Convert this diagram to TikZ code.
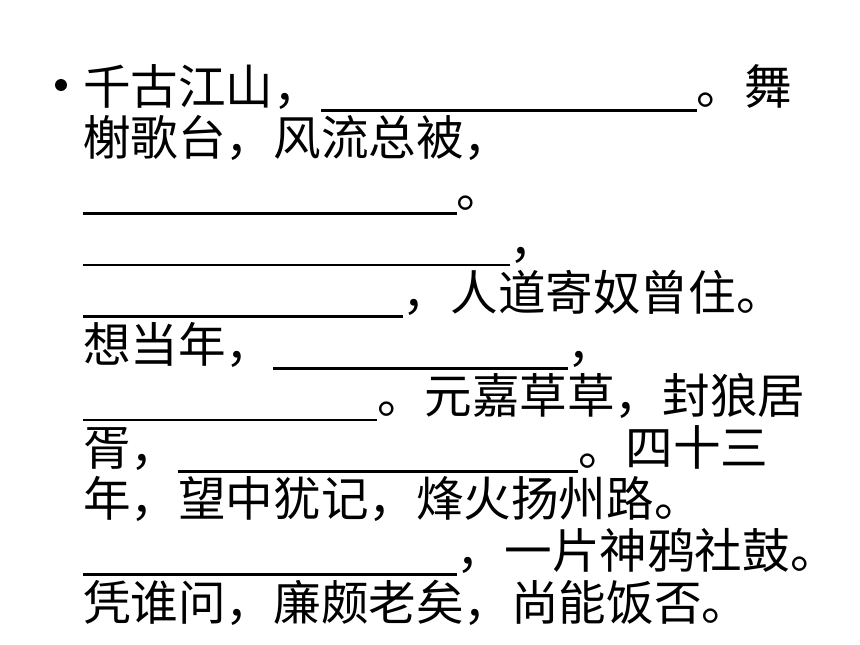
\documentclass[tikz,border=0pt]{standalone}
\usepackage{fontspec}
\newfontfamily\cjk{Noto Sans CJK SC}
\newcommand{\blankline}[1]{\rule[-7.6pt]{#1pt}{2.7pt}}
\tikzset{
  verse/.style={anchor=base west, inner sep=0pt, outer sep=0pt, font=\cjk\fontsize{47.6pt}{51.6pt}\selectfont, text=black}
}
\begin{document}
\begin{tikzpicture}
\useasboundingbox[fill=white] (0pt,0pt) rectangle (860pt,-645pt);
\coordinate (bullet) at (61pt,-85pt);
\fill[black] (bullet) circle[radius=6pt];
\begin{scope}[x=1pt,y=-1pt]
\node[verse] (l1) at (83,104) {千古江山，\blankline{376}。舞};
\node[verse] (l2) at (83,155.6) {榭歌台，风流总被，};
\node[verse] (l3) at (83,207.2) {\blankline{374}。};
\node[verse] (l4) at (83,258.8) {\blankline{427}，};
\node[verse] (l5) at (83,310.4) {\blankline{320}，人道寄奴曾住。};
\node[verse] (l6) at (83,362) {想当年，\blankline{294.6}，};
\node[verse] (l7) at (83,413.6) {\blankline{294}。元嘉草草，封狼居};
\node[verse] (l8) at (83,465.2) {胥，\blankline{400}。四十三};
\node[verse] (l9) at (83,516.8) {年，望中犹记，烽火扬州路。};
\node[verse] (l10) at (83,568.4) {\blankline{374}，一片神鸦社鼓。};
\node[verse] (l11) at (83,620) {凭谁问，廉颇老矣，尚能饭否。};
\end{scope}
\end{tikzpicture}
\end{document}
